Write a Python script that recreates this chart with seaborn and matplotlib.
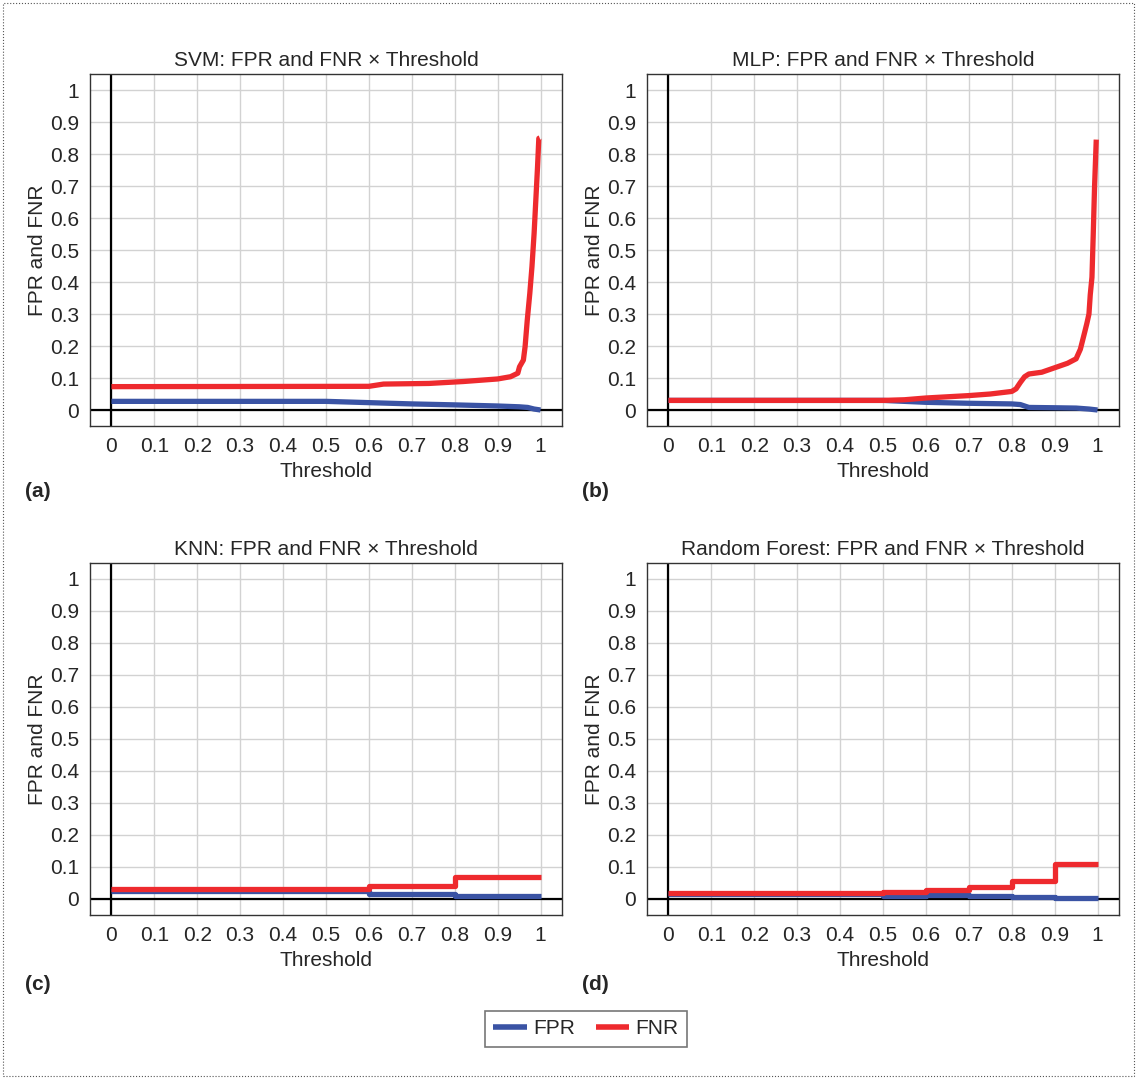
import numpy as np
import pandas as pd
import matplotlib
matplotlib.use("Agg")
import matplotlib.pyplot as plt
import seaborn as sns
from matplotlib.patches import Rectangle

# data
svm_fnr_x = [0, 0.6, 0.634, 0.74, 0.82, 0.9, 0.93, 0.947, 0.951, 0.96, 0.964, 0.969, 0.975, 0.98, 0.985, 0.989, 0.993, 0.996, 0.998]
svm_fnr_y = [0.073, 0.074, 0.081, 0.083, 0.089, 0.097, 0.104, 0.115, 0.135, 0.156, 0.198, 0.28, 0.365, 0.448, 0.552, 0.656, 0.76, 0.849, 0.85]
svm_fpr_x = [0, 0.5, 0.6, 0.7, 0.8, 0.9, 0.95, 0.97, 0.985, 1.0]
svm_fpr_y = [0.027, 0.027, 0.023, 0.019, 0.016, 0.0125, 0.01, 0.008, 0.003, 0.0]

mlp_fnr_x = [0, 0.5, 0.55, 0.6, 0.7, 0.75, 0.8, 0.81, 0.82, 0.83, 0.84, 0.87, 0.9, 0.93, 0.95, 0.96, 0.97, 0.975, 0.98, 0.983, 0.987, 0.99, 0.993, 0.997]
mlp_fnr_y = [0.03, 0.03, 0.032, 0.0375, 0.045, 0.05, 0.058, 0.066, 0.086, 0.104, 0.1125, 0.118, 0.132, 0.146, 0.16, 0.19, 0.243, 0.27, 0.3, 0.36, 0.415, 0.55, 0.696, 0.845]
mlp_fpr_x = [0, 0.5, 0.6, 0.7, 0.8, 0.82, 0.84, 0.9, 0.95, 0.98, 1.0]
mlp_fpr_y = [0.03, 0.03, 0.024, 0.021, 0.019, 0.017, 0.008, 0.007, 0.006, 0.003, 0.0]

knn_x = [0, 0.6, 0.8, 1.0]
knn_fnr = [0.031, 0.04, 0.068, 0.068]
knn_fpr = [0.025, 0.016, 0.008, 0.008]

rf_x = [0, 0.5, 0.6, 0.7, 0.8, 0.9, 1.0]
rf_fnr = [0.019, 0.022, 0.029, 0.039, 0.056, 0.11, 0.11]
rf_fpr = [0.017, 0.01, 0.011, 0.008, 0.005, 0.003, 0.003]

titles = ["SVM: FPR and FNR \u00d7 Threshold", "MLP: FPR and FNR \u00d7 Threshold",
          "KNN: FPR and FNR \u00d7 Threshold", "Random Forest: FPR and FNR \u00d7 Threshold"]
panel_tags = ["(a)", "(b)", "(c)", "(d)"]
ticks = [0, 0.1, 0.2, 0.3, 0.4, 0.5, 0.6, 0.7, 0.8, 0.9, 1]
tick_labels = ["0", "0.1", "0.2", "0.3", "0.4", "0.5", "0.6", "0.7", "0.8", "0.9", "1"]

BLUE = "#3a53a4"
RED = "#ee2a2e"
FS = 15

sns.set_style("white")
plt.rcParams["font.family"] = ["Liberation Sans", "DejaVu Sans"]
plt.rcParams["font.size"] = FS

W, H = 1138, 1081
fig = plt.figure(figsize=(W / 100, H / 100), dpi=100)

def px_axes(left, top, right, bottom):
    return fig.add_axes([left / W, 1 - bottom / H, (right - left) / W, (bottom - top) / H])

boxes = [(90, 74, 562, 426), (647, 74, 1119, 426), (90, 563, 562, 915), (647, 563, 1119, 915)]
series = [
    (svm_fpr_x, svm_fpr_y, svm_fnr_x, svm_fnr_y, None),
    (mlp_fpr_x, mlp_fpr_y, mlp_fnr_x, mlp_fnr_y, None),
    (knn_x, knn_fpr, knn_x, knn_fnr, "steps-post"),
    (rf_x, rf_fpr, rf_x, rf_fnr, "steps-post"),
]
tag_pos = [(25, 492), (582, 492), (25, 985), (582, 985)]

for i, (box, s) in enumerate(zip(boxes, series)):
    ax = px_axes(*box)
    fx, fy, nx, ny, ds = s
    kw = dict(lw=3.8, estimator=None, sort=False, solid_capstyle="butt")
    if ds:
        kw["drawstyle"] = ds
    sns.lineplot(x=fx, y=fy, ax=ax, color=BLUE, label="FPR", **kw)
    sns.lineplot(x=nx, y=ny, ax=ax, color=RED, label="FNR", **kw)
    ax.axvline(0, color="black", lw=1.6, zorder=1.5)
    ax.axhline(0, color="black", lw=1.6, zorder=1.5)
    ax.set_xlim(-0.05, 1.05)
    ax.set_ylim(-0.05, 1.05)
    ax.set_xticks(ticks)
    ax.set_xticklabels(tick_labels)
    ax.set_yticks(ticks)
    ax.set_yticklabels(tick_labels)
    ax.grid(True, color="#d2d2d2", lw=1.0)
    ax.set_axisbelow(True)
    ax.tick_params(direction="out", length=3, width=0.8, color="#333333", labelsize=FS, pad=5)
    for sp in ax.spines.values():
        sp.set_color("#333333")
        sp.set_linewidth(1.0)
    ax.set_title(titles[i], fontsize=FS, pad=6)
    ax.set_xlabel("Threshold", fontsize=FS, labelpad=4)
    ax.set_ylabel("FPR and FNR", fontsize=FS, labelpad=2)
    handles, labels = ax.get_legend_handles_labels()
    ax.get_legend().remove()
    fig.text(tag_pos[i][0] / W, 1 - tag_pos[i][1] / H, panel_tags[i],
             fontsize=FS, fontweight="bold", va="center", ha="left")

leg = fig.legend(handles, labels, loc="center", bbox_to_anchor=(586 / W, 1 - 1029 / H),
                 ncol=2, fontsize=FS, frameon=True, fancybox=False, handlelength=1.6,
                 handletextpad=0.3, columnspacing=1.0, borderpad=0.4)
leg.get_frame().set_edgecolor("#555555")
leg.get_frame().set_linewidth(1.2)
for lh in leg.get_lines():
    lh.set_linewidth(4)

# dotted frame around the whole figure
fig.patches.append(Rectangle((3 / W, 5 / H), 1 - 7 / W, 1 - 8 / H, transform=fig.transFigure,
                             fill=False, ls=":", lw=0.8, ec="#555555"))

fig.savefig("out.png", dpi=100)
